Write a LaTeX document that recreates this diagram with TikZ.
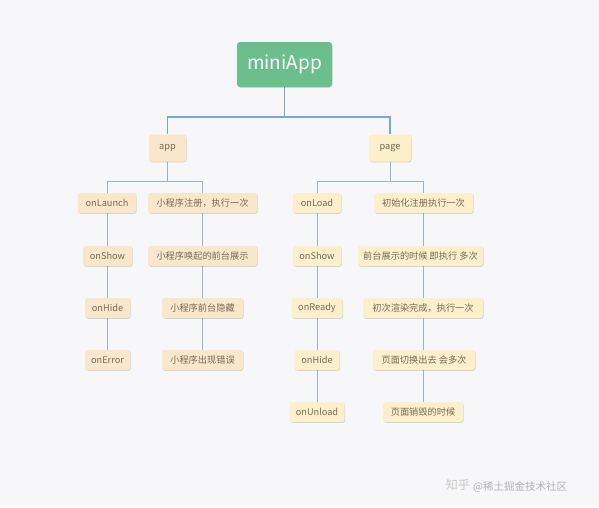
\documentclass[tikz,border=0pt]{standalone}
\usepackage{fontspec}
\setmainfont{Noto Sans CJK SC}
\usetikzlibrary{backgrounds,shadows}
\definecolor{bgc}{HTML}{F7F7F9}
\definecolor{rootc}{HTML}{6CBF8C}
\definecolor{appc}{HTML}{F8E7CB}
\definecolor{pagec}{HTML}{FBF0CB}
\definecolor{linec}{HTML}{78A6D6}
\definecolor{sublinec}{HTML}{9DB3CC}
\definecolor{txtc}{HTML}{7A6A55}
\tikzset{
  x=1pt, y=-1pt,
  box/.style={rounded corners=2.5pt, inner sep=0pt, minimum height=20pt,
    font=\fontsize{9.2}{10}\selectfont, text=txtc,
    drop shadow={shadow xshift=0.6pt, shadow yshift=-0.8pt, opacity=0.15, fill=black}},
  abox/.style={box, fill=appc},
  pbox/.style={box, fill=pagec},
  mainline/.style={draw=linec, line width=1.4pt},
  subline/.style={draw=sublinec, line width=0.8pt},
}
\begin{document}
\begin{tikzpicture}
\useasboundingbox (0,0) rectangle (599,507);
% root
\node[rounded corners=3pt, fill=rootc, text=white, minimum width=95pt, minimum height=45pt,
  inner sep=0pt, font=\fontsize{19}{22}\selectfont,
  drop shadow={shadow xshift=0.6pt, shadow yshift=-0.8pt, opacity=0.12, fill=black}] (root) at (284.5,64.5) {miniApp};
\node[abox, minimum width=37pt, minimum height=27pt] (app) at (167.5,148) {app};
\node[pbox, minimum width=42pt, minimum height=27pt] (page) at (390,148) {page};
% app column
\node[abox, minimum width=58pt] (onLaunch) at (107,203) {onLaunch};
\node[abox, minimum width=49pt] (aShow) at (107.5,256) {onShow};
\node[abox, minimum width=45pt] (aHide) at (107.5,308) {onHide};
\node[abox, minimum width=45pt] (aError) at (107.5,360) {onError};
\node[abox, minimum width=109pt] (d1) at (202.5,203) {小程序注册，执行一次};
\node[abox, minimum width=109pt] (d2) at (202.5,256) {小程序唤起的前台展示};
\node[abox, minimum width=81pt] (d3) at (202.5,308) {小程序前台隐藏};
\node[abox, minimum width=81pt] (d4) at (202.5,360) {小程序出现错误};
% page column
\node[pbox, minimum width=48pt] (pLoad) at (317,203) {onLoad};
\node[pbox, minimum width=48pt] (pShow) at (317,256) {onShow};
\node[pbox, minimum width=51pt] (pReady) at (317,308) {onReady};
\node[pbox, minimum width=45pt] (pHide) at (317,360) {onHide};
\node[pbox, minimum width=55pt] (pUnload) at (317,412) {onUnload};
\node[pbox, minimum width=99pt] (e1) at (423.5,203) {初始化注册执行一次};
\node[pbox, minimum width=125pt] (e2) at (420.5,256) {前台展示的时候 即执行 多次};
\node[pbox, minimum width=120pt] (e3) at (423,308) {初次渲染完成，执行一次};
\node[pbox, minimum width=102pt] (e4) at (424,360) {页面切换出去 会多次};
\node[pbox, minimum width=80pt] (e5) at (423,412) {页面销毁的时候};
% watermark
\node[text=black!22, font=\fontsize{12}{14}\selectfont, anchor=east, inner sep=0pt] (wm1) at (470,485) {知乎};
\node[text=black!30, font=\fontsize{10.5}{12}\selectfont, anchor=west, inner sep=0pt] (wm2) at (473,487) {@稀土掘金技术社区};
\begin{pgfonlayer}{background}
\fill[bgc] (0,0) rectangle (599,507);
\coordinate (mid) at (284.5,117);
\draw[mainline] (root.south) -- (mid);
\draw[mainline] (mid) -| (app.north);
\draw[mainline] (mid) -| (page.north);
\coordinate (abr) at (167.5,181);
\coordinate (pbr) at (390,181);
\draw[subline] (app.south) -- (abr);
\draw[subline] (abr) -| (aError.north);
\draw[subline] (abr) -| (d4.north);
\draw[subline] (page.south) -- (pbr);
\draw[subline] (pbr) -| (pUnload.north);
\draw[subline] (pbr) -| (e5.north);
\end{pgfonlayer}
\end{tikzpicture}
\end{document}
